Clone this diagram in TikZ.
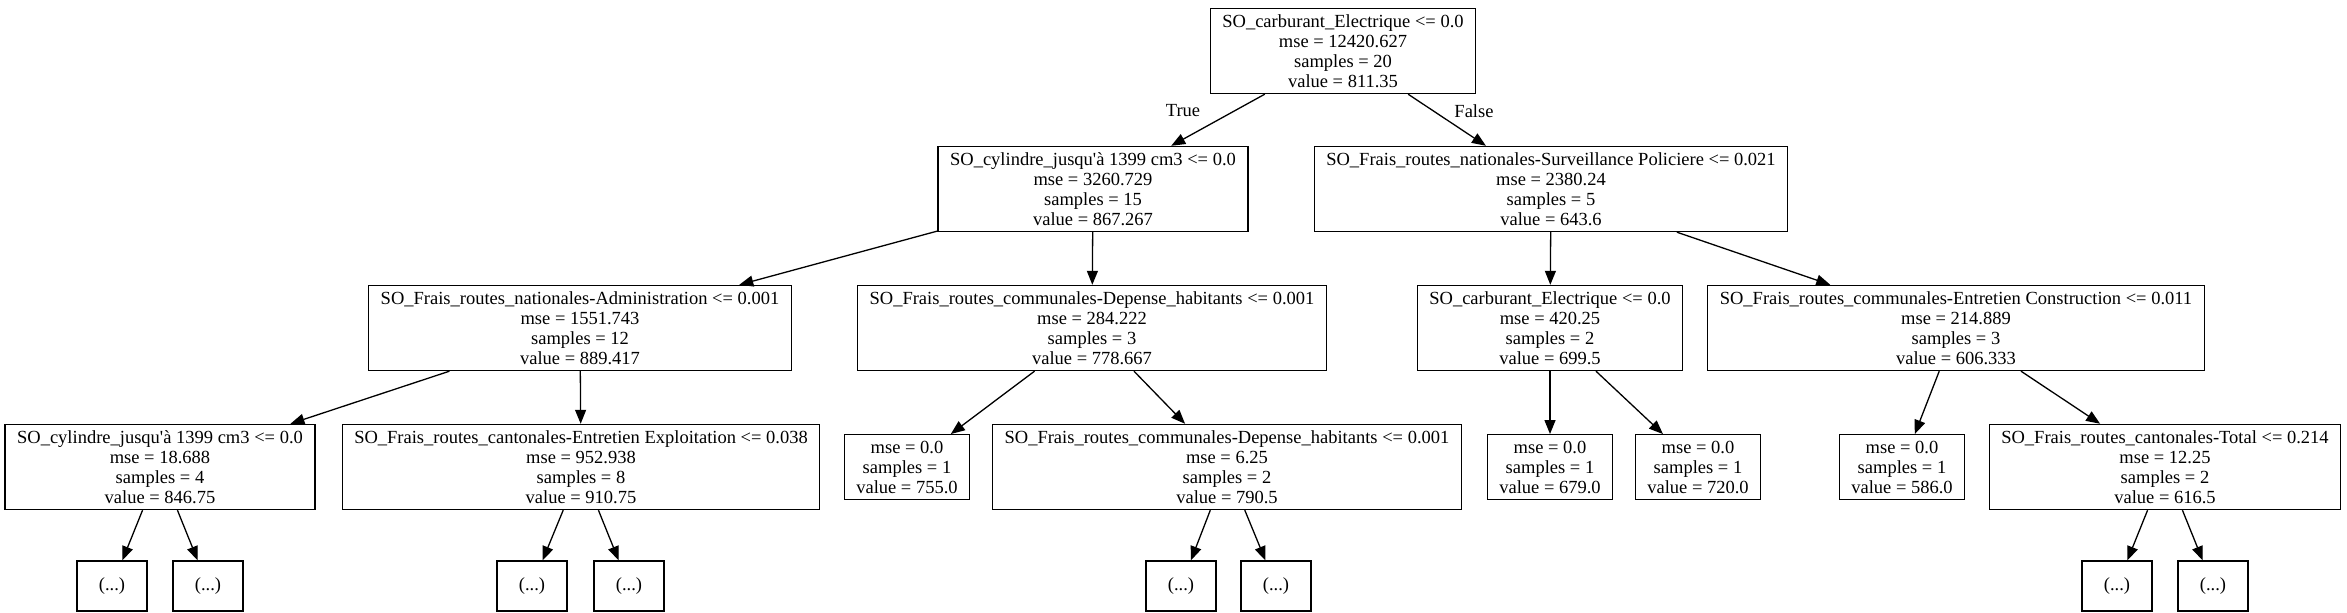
\documentclass[tikz,border=0pt]{standalone}
\usepackage{fontspec}
\setmainfont{Liberation Serif}
\usetikzlibrary{arrows.meta}
\begin{document}
\begin{tikzpicture}[x=0.5pt,y=-0.5pt,line width=0.65pt,>={Triangle[length=7pt,width=5.5pt]}]
\tikzset{split/.style={draw,align=center,font=\fontsize{9.25}{10}\selectfont,inner xsep=6pt,inner ysep=3pt},
cut/.style={split,minimum width=35pt,minimum height=25pt},
branch label/.style={font=\fontsize{9.25}{10}\selectfont}}
\useasboundingbox (0,0) rectangle (2347,613);
\node[split] (R) at (1343,51) {SO\_carburant\_Electrique <= 0.0\\mse = 12420.627\\samples = 20\\value = 811.35};
\node[split] (A) at (1093,189) {SO\_cylindre\_jusqu\textquotesingle à 1399 cm3 <= 0.0\\mse = 3260.729\\samples = 15\\value = 867.267};
\node[split] (B) at (1551,189) {SO\_Frais\_routes\_nationales-Surveillance Policiere <= 0.021\\mse = 2380.24\\samples = 5\\value = 643.6};
\node[split] (C) at (580,328) {SO\_Frais\_routes\_nationales-Administration <= 0.001\\mse = 1551.743\\samples = 12\\value = 889.417};
\node[split] (D) at (1092,328) {SO\_Frais\_routes\_communales-Depense\_habitants <= 0.001\\mse = 284.222\\samples = 3\\value = 778.667};
\node[split] (E) at (1550,328) {SO\_carburant\_Electrique <= 0.0\\mse = 420.25\\samples = 2\\value = 699.5};
\node[split] (F) at (1956,328) {SO\_Frais\_routes\_communales-Entretien Construction <= 0.011\\mse = 214.889\\samples = 3\\value = 606.333};
\node[split] (G) at (160,467) {SO\_cylindre\_jusqu\textquotesingle à 1399 cm3 <= 0.0\\mse = 18.688\\samples = 4\\value = 846.75};
\node[split] (H) at (581,467) {SO\_Frais\_routes\_cantonales-Entretien Exploitation <= 0.038\\mse = 952.938\\samples = 8\\value = 910.75};
\node[split] (I) at (907,467) {mse = 0.0\\samples = 1\\value = 755.0};
\node[split] (J) at (1227,467) {SO\_Frais\_routes\_communales-Depense\_habitants <= 0.001\\mse = 6.25\\samples = 2\\value = 790.5};
\node[split] (K) at (1550,467) {mse = 0.0\\samples = 1\\value = 679.0};
\node[split] (L) at (1698,467) {mse = 0.0\\samples = 1\\value = 720.0};
\node[split] (M) at (1902,467) {mse = 0.0\\samples = 1\\value = 586.0};
\node[split] (N) at (2165,467) {SO\_Frais\_routes\_cantonales-Total <= 0.214\\mse = 12.25\\samples = 2\\value = 616.5};
% truncated subtrees
\node[cut] (G1) at (112,586) {(...)};
\node[cut] (G2) at (208,586) {(...)};
\node[cut] (H1) at (532,586) {(...)};
\node[cut] (H2) at (629,586) {(...)};
\node[cut] (J1) at (1181,586) {(...)};
\node[cut] (J2) at (1276,586) {(...)};
\node[cut] (N1) at (2117,586) {(...)};
\node[cut] (N2) at (2213,586) {(...)};
\draw[->] (R)--(A); \draw[->] (R)--(B);
\node[branch label] (T) at (1183,111) {True};
\node[branch label] (Fa) at (1474,111) {False};
\draw[->] (A)--(C); \draw[->] (A)--(D);
\draw[->] (B)--(E); \draw[->] (B)--(F);
\draw[->] (C)--(G); \draw[->] (C)--(H);
\draw[->] (D)--(I); \draw[->] (D)--(J);
\draw[->] (E)--(K); \draw[->] (E)--(L);
\draw[->] (F)--(M); \draw[->] (F)--(N);
\draw[->] (G)--(G1); \draw[->] (G)--(G2);
\draw[->] (H)--(H1); \draw[->] (H)--(H2);
\draw[->] (J)--(J1); \draw[->] (J)--(J2);
\draw[->] (N)--(N1); \draw[->] (N)--(N2);
\end{tikzpicture}
\end{document}
